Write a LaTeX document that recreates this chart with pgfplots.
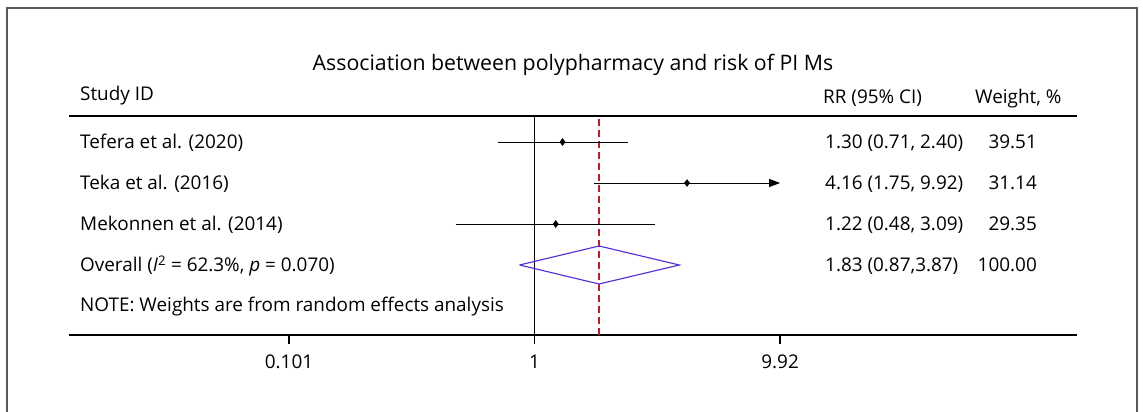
\documentclass[border=0pt]{standalone}
\usepackage{fontspec}
\setmainfont{Open Sans}
\usepackage{pgfplots}
\pgfplotsset{compat=1.18}
\usetikzlibrary{arrows.meta}

\definecolor{refred}{RGB}{195,25,40}
\definecolor{diamblue}{RGB}{85,40,220}
\newcommand{\bodyfont}{\fontsize{18.9}{22}\selectfont}
\newcommand{\titlefont}{\fontsize{21.3}{25}\selectfont}

\begin{document}
\begin{tikzpicture}[x=1pt, y=1pt]
  \path[use as bounding box, clip] (0,0) rectangle (1143,412);
  % outer frame (bottom edge lies below the picture)
  \draw[line width=1.5pt, black!65] (7,-20) rectangle (1137,404);

  \begin{axis}[
      at={(69pt,77pt)}, anchor=south west,
      scale only axis, width=1008pt, height=219pt,
      xmode=log, xmin=0.01294, xmax=158.9,
      ymin=0, ymax=219,
      axis x line=bottom, axis y line=none,
      x axis line style={-, line width=1.2pt},
      xtick={0.101,1,9.92}, xticklabels={0.101,1,9.92},
      minor xtick={},
      xtick align=outside, major tick length=9pt,
      every tick/.style={draw=black, line width=1.3pt},
      xticklabel style={font=\bodyfont, text=black, yshift=-7pt},
      clip=false,
    ]
    % top rule of the table
    \draw[line width=1.2pt] (rel axis cs:0,1) -- (rel axis cs:1,1);
    % null line and overall estimate
    \addplot[black, line width=1pt] coordinates {(1,0) (1,219)};
    \addplot[color=refred, line width=1.4pt, dash pattern=on 7pt off 4pt] coordinates {(1.83,0) (1.83,219)};
    % confidence intervals
    \addplot[black, line width=0.9pt] coordinates {(0.71,193) (2.40,193)};
    \addplot[black, line width=0.9pt, -{Triangle[length=11pt,width=8pt]}] coordinates {(1.75,152) (9.92,152)};
    \addplot[black, line width=0.9pt] coordinates {(0.48,111) (3.09,111)};
    % point estimates
    \addplot[only marks, mark=diamond*, mark size=3.5pt, black] coordinates {(1.30,193) (4.16,152) (1.22,111)};
    % pooled diamond
    \addplot[diamblue, line width=1.1pt, line join=miter] coordinates {(0.87,70) (1.83,89) (3.87,70) (1.83,51) (0.87,70)};
  \end{axis}

  % title and headers
  \node[anchor=base, font=\titlefont] at (573,341) {Association between polypharmacy and risk of PI Ms};
  \node[anchor=base west, font=\bodyfont, inner sep=0] at (80,311) {Study ID};
  \node[anchor=base west, font=\bodyfont, inner sep=0] at (823,308) {RR (95\% CI)};
  \node[anchor=base west, font=\bodyfont, inner sep=0] at (975,308) {Weight, \%};

  % study rows
  \node[anchor=base west, font=\bodyfont, inner sep=0] at (80,263) {Tefera et al. (2020)};
  \node[anchor=base west, font=\bodyfont, inner sep=0] at (80,222) {Teka et al. (2016)};
  \node[anchor=base west, font=\bodyfont, inner sep=0] at (80,181) {Mekonnen et al. (2014)};
  \node[anchor=base west, font=\bodyfont, inner sep=0] at (80,140) {Overall (\textit{I}\textsuperscript{2} = 62.3\%, \textit{p} = 0.070)};
  \node[anchor=base west, font=\bodyfont, inner sep=0] at (80,100) {NOTE: Weights are from random effects analysis};

  % RR column
  \node[anchor=base west, font=\bodyfont, inner sep=0] at (825,263) {1.30 (0.71, 2.40)};
  \node[anchor=base west, font=\bodyfont, inner sep=0] at (825,222) {4.16 (1.75, 9.92)};
  \node[anchor=base west, font=\bodyfont, inner sep=0] at (825,181) {1.22 (0.48, 3.09)};
  \node[anchor=base west, font=\bodyfont, inner sep=0] at (825,140) {1.83 (0.87,3.87)};

  % weight column
  \node[anchor=base east, font=\bodyfont, inner sep=0] at (1037,263) {39.51};
  \node[anchor=base east, font=\bodyfont, inner sep=0] at (1037,222) {31.14};
  \node[anchor=base east, font=\bodyfont, inner sep=0] at (1037,181) {29.35};
  \node[anchor=base east, font=\bodyfont, inner sep=0] at (1037,140) {100.00};
\end{tikzpicture}
\end{document}
